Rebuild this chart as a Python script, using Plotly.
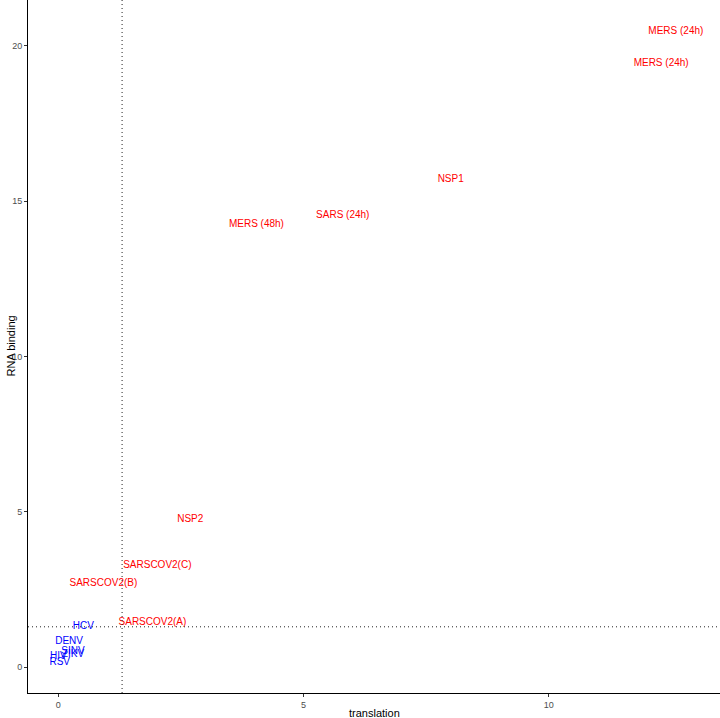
import plotly.graph_objects as go

# label, translation (x), RNA binding (y)
RED_LABELS = ["MERS (24h)", "MERS (24h)", "NSP1", "SARS (24h)", "MERS (48h)",
              "NSP2", "SARSCOV2(C)", "SARSCOV2(B)", "SARSCOV2(A)"]
RED_X = [12.59, 12.29, 8.00, 5.80, 4.04, 2.69, 2.02, 0.92, 1.92]
RED_Y = [20.48, 19.45, 15.71, 14.55, 14.26, 4.77, 3.29, 2.71, 1.45]

BLUE_LABELS = ["HCV", "DENV", "SINV", "ZIKV", "HIV", "RSV"]
BLUE_X = [0.51, 0.22, 0.30, 0.30, 0.00, 0.03]
BLUE_Y = [1.32, 0.84, 0.52, 0.42, 0.36, 0.15]

CUTOFF = 1.301

FONT = "Liberation Sans, Arial, sans-serif"

fig = go.Figure()
fig.add_trace(go.Scatter(
    x=RED_X, y=RED_Y, text=RED_LABELS, mode="text",
    textfont=dict(color="#ff0000", size=10, family=FONT),
    textposition="middle center", hoverinfo="text",
))
fig.add_trace(go.Scatter(
    x=BLUE_X, y=BLUE_Y, text=BLUE_LABELS, mode="text",
    textfont=dict(color="#0000ff", size=10, family=FONT),
    textposition="middle center", hoverinfo="text",
))

cut_line = dict(color="#222222", width=1, dash="1px,3px")
fig.add_vline(x=CUTOFF, line=cut_line)
fig.add_hline(y=CUTOFF, line=cut_line)

axis_common = dict(
    showgrid=False, zeroline=False, showline=True, linecolor="black", linewidth=1,
    ticks="outside", ticklen=3, tickcolor="#333333", automargin=False,
    tickfont=dict(size=9, color="#4d4d4d", family=FONT),
)

fig.update_layout(
    width=720, height=718,
    paper_bgcolor="white", plot_bgcolor="white",
    font=dict(family=FONT, color="black"),
    margin=dict(l=28, r=0, t=0, b=25),
    showlegend=False,
    xaxis=dict(**axis_common, range=[-0.617, 13.49], tickvals=[0, 5, 10]),
    yaxis=dict(**axis_common, range=[-0.83, 21.48], tickvals=[0, 5, 10, 15, 20]),
    annotations=[
        dict(text="translation", xref="paper", yref="paper", x=0.5, y=0,
             yshift=-20, yanchor="middle", showarrow=False,
             font=dict(size=11, color="black")),
        dict(text="RNA binding", xref="paper", yref="paper", x=0, y=0.5,
             xshift=-18, xanchor="center", textangle=-90, showarrow=False,
             font=dict(size=11, color="black")),
    ],
)

fig.write_html("out.html", config={"displayModeBar": False},
               post_script="document.body.style.margin='0';")
